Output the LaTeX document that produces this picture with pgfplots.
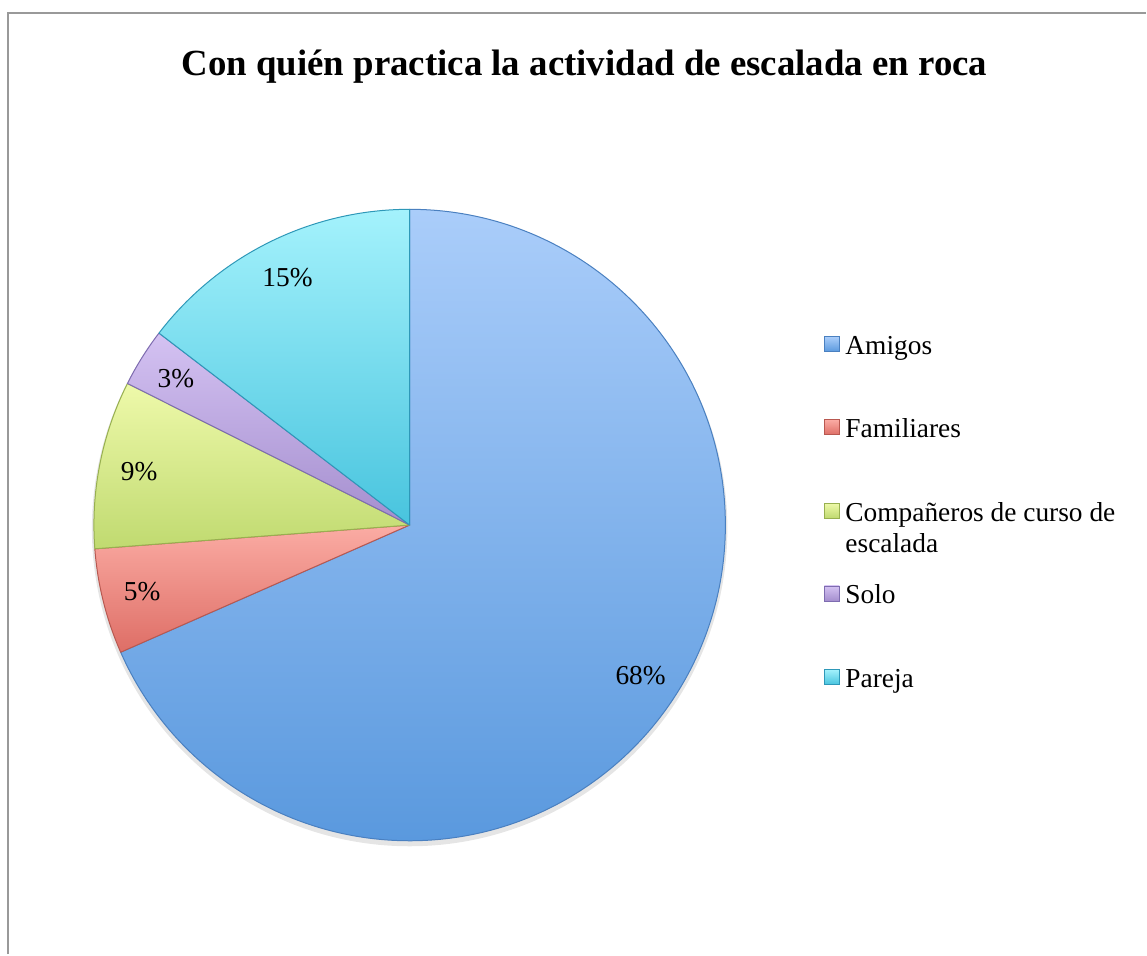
\documentclass[border=0pt]{standalone}
\usepackage{fontspec}
\setmainfont{Liberation Serif}
\usepackage{pgfplots}
\pgfplotsset{compat=1.18}
\usepackage{pgfplotstable}
\usetikzlibrary{calc}

\definecolor{top0}{HTML}{AACDFA}\definecolor{bot0}{HTML}{5A99DE}\definecolor{edge0}{HTML}{4A80C0}
\definecolor{top1}{HTML}{FBACA4}\definecolor{bot1}{HTML}{DE6E66}\definecolor{edge1}{HTML}{B85850}
\definecolor{top2}{HTML}{EEF9AA}\definecolor{bot2}{HTML}{C0DA70}\definecolor{edge2}{HTML}{98B050}
\definecolor{top3}{HTML}{D4C2F2}\definecolor{bot3}{HTML}{A48ECE}\definecolor{edge3}{HTML}{7E6CB0}
\definecolor{top4}{HTML}{A4F2FC}\definecolor{bot4}{HTML}{48C4DE}\definecolor{edge4}{HTML}{2E98B8}

\newcommand\labfont{\fontsize{27.5}{31.3}\selectfont}

\pgfplotstableread[col sep=comma]{
name,value
Amigos,68.4
Familiares,5.4
Companeros,8.6
Solo,3.0
Pareja,14.6
}\piedata

\begin{document}
\begin{tikzpicture}
\begin{axis}[x=1bp,y=1bp,xmin=0,xmax=1147,ymin=0,ymax=955,hide axis,clip=false]
\fill[white] (axis cs:0,0) rectangle (axis cs:1147,955);
\draw[color=black!40, line width=2bp] (axis cs:8.5,0) -- (axis cs:8.5,941.5) -- (axis cs:1147,941.5);
\node[font=\fontsize{37}{44}\selectfont\bfseries, anchor=base] at (axis cs:585,879) {Con quién practica la actividad de escalada en roca};
% shadow
\fill[black, opacity=0.10] (axis cs:410,426) circle[radius=318bp];
\gdef\angstart{90}
\pgfplotsforeachungrouped \i in {0,1,2,3,4} {%
  \pgfplotstablegetelem{\i}{value}\of\piedata
  \let\val\pgfplotsretval
  \pgfmathsetmacro\sweep{3.6*\val}
  \pgfmathsetmacro\angend{\angstart-\sweep}
  \pgfmathsetmacro\angmid{\angstart-\sweep/2}
  \pgfmathsetmacro\lx{410+276*cos(\angmid)}
  \pgfmathsetmacro\ly{429.5+276*sin(\angmid)}
  \pgfmathtruncatemacro\pct{round(\val)}
  \edef\doit{%
    \noexpand\shade[top color=top\i, bottom color=bot\i, draw=edge\i, line width=1bp, line join=round]
      (axis cs:410,429.5) -- ++(\angstart:316bp) arc[start angle=\angstart, end angle=\angend, radius=316bp] -- cycle;
    \noexpand\node[font=\noexpand\labfont] at (axis cs:\lx,\ly) {\pct\noexpand\%};
  }%
  \doit
  \global\let\angstart\angend
}
% legend
\shade[top color=top0, bottom color=bot0, draw=edge0, line width=0.6bp] (axis cs:825,603) rectangle (axis cs:840,618);
\node[font=\labfont, anchor=base west, inner sep=0pt] at (axis cs:846,600) {Amigos};
\shade[top color=top1, bottom color=bot1, draw=edge1, line width=0.6bp] (axis cs:825,520) rectangle (axis cs:840,535);
\node[font=\labfont, anchor=base west, inner sep=0pt] at (axis cs:846,517) {Familiares};
\shade[top color=top2, bottom color=bot2, draw=edge2, line width=0.6bp] (axis cs:825,436.5) rectangle (axis cs:840,451.5);
\node[font=\labfont, anchor=base west, inner sep=0pt] at (axis cs:846,433.5) {Compañeros de curso de};
\node[font=\labfont, anchor=base west, inner sep=0pt] at (axis cs:846,402) {escalada};
\shade[top color=top3, bottom color=bot3, draw=edge3, line width=0.6bp] (axis cs:825,353.5) rectangle (axis cs:840,368.5);
\node[font=\labfont, anchor=base west, inner sep=0pt] at (axis cs:846,350.5) {Solo};
\shade[top color=top4, bottom color=bot4, draw=edge4, line width=0.6bp] (axis cs:825,270) rectangle (axis cs:840,285);
\node[font=\labfont, anchor=base west, inner sep=0pt] at (axis cs:846,267) {Pareja};
\end{axis}
\end{tikzpicture}
\end{document}
